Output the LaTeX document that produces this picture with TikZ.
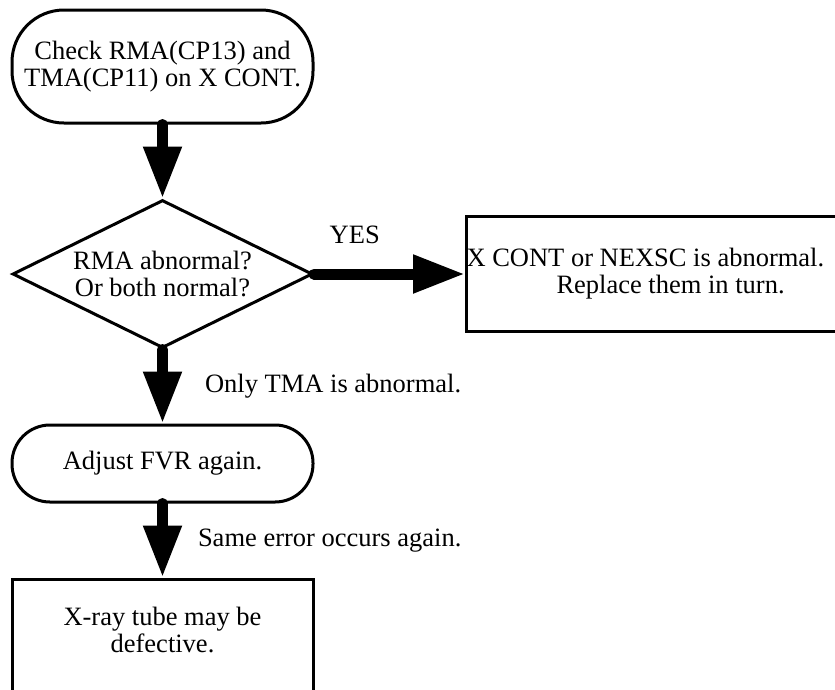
\documentclass[tikz,border=0pt]{standalone}
\usepackage{fontspec}
\setmainfont{Liberation Serif}
\usetikzlibrary{shapes.geometric, arrows.meta, positioning}

\begin{document}
\begin{tikzpicture}[x=1pt, y=-1pt,
    every node/.style={font=\fontsize{26.5}{27}\selectfont},
    box/.style={draw, line width=3pt, align=center, inner sep=0pt},
    term/.style={box, minimum width=301pt},
    decision/.style={box, diamond, aspect=2.03, minimum width=300pt, minimum height=148pt},
    flow/.style={line width=11pt, line cap=round,
      -{Triangle[length=52pt,width=36pt]}},
    note/.style={inner sep=0pt},
    node distance=74pt]
  \path[use as bounding box, clip] (0,0) rectangle (835,689);

  \node[term, rounded corners=52pt, minimum height=113pt] (check) at (162.5,66.5)
    {Check RMA(CP13) and\\TMA(CP11) on X CONT.};
  \node[decision, below=of check] (test) {RMA abnormal?\\Or both normal?};
  \node[box, right=151pt of test, minimum height=115pt, text width=414pt,
    inner xsep=0pt, align=flush left] (swap)
    {X CONT or NEXSC is abnormal.\\\hspace*{90pt}Replace them in turn.};
  \node[term, rounded corners=38pt, minimum height=77pt, below=of test] (adjust)
    {Adjust FVR again.};
  \node[term, minimum height=118pt, text depth=16pt, below=of adjust] (tube)
    {X-ray tube may be\\defective.};

  \draw[flow] (check) -- (test);
  \draw[flow] (test) -- node[note, pos=0.27, above=25pt] {YES} (swap);
  \draw[flow] (test) -- node[note, right=37pt] {Only TMA is abnormal.} (adjust);
  \draw[flow] (adjust) -- node[note, right=30pt] {Same error occurs again.} (tube);
\end{tikzpicture}
\end{document}
